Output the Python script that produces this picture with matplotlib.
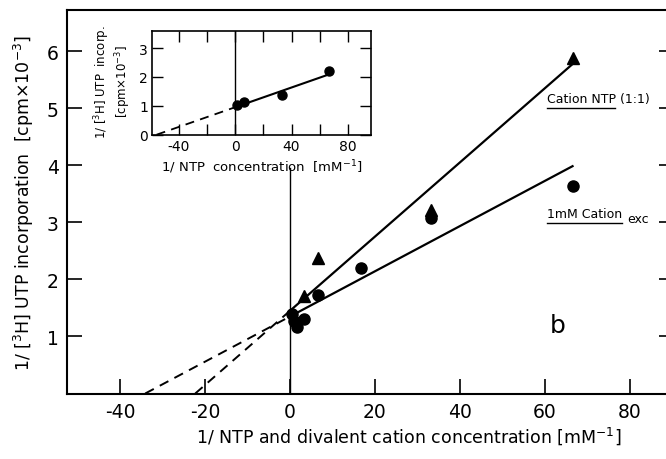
import matplotlib.pyplot as plt
from matplotlib.lines import Line2D

plt.rcParams['font.family'] = 'DejaVu Sans'
plt.rcParams['axes.unicode_minus'] = False

# main panel: 1/UTP incorporation vs 1/NTP and cation concentration
tri_x = [3.3, 6.7, 33.3, 66.7]
tri_y = [1.70, 2.37, 3.22, 5.88]
circ_x = [0.5, 1.0, 1.7, 3.3, 6.7, 16.7, 33.3, 66.7]
circ_y = [1.40, 1.27, 1.16, 1.30, 1.72, 2.20, 3.07, 3.63]

# fitted lines (intercept, slope)
fit_tri = (1.45, 0.065)
fit_circ = (1.35, 0.0396)

# inset: 1/UTP incorporation vs 1/NTP concentration
ins_x = [1.7, 6.7, 33.3, 66.7]
ins_y = [1.02, 1.12, 1.38, 2.19]
fit_ins = (0.95, 0.0171)

fig = plt.figure(figsize=(6.66, 4.60), dpi=100)
ax = fig.add_axes([67/666, 65.5/460, 599/666, 383.5/460])

for b0, b1 in [fit_tri, fit_circ]:
    x0 = -b0 / b1
    ax.plot([x0, 0], [0, b0], color='black', lw=1.4, dashes=(5, 3.5))
    ax.plot([0, 66.5], [b0, b0 + b1 * 66.5], color='black', lw=1.6)

ax.plot([0, 0], [0, 3.95], color='black', lw=1.0)
ax.plot(circ_x, circ_y, 'o', color='black', ms=8)
ax.plot(tri_x, tri_y, '^', color='black', ms=9)

ax.set_xlim(-52.5, 88.5)
ax.set_ylim(0, 6.72)
ax.set_xticks([-40, -20, 0, 20, 40, 60, 80])
ax.set_yticks([1, 2, 3, 4, 5, 6])
ax.tick_params(direction='in', length=11, width=1.2, labelsize=13.5, pad=6)
ax.tick_params(axis='y', right=True)
for t in ax.yaxis.get_major_ticks():
    t.tick2line.set_markersize(5)
ax.spines['right'].set_visible(False)
for s in ['left', 'bottom', 'top']:
    ax.spines[s].set_linewidth(1.5)

ax.set_xlabel('1/ NTP and divalent cation concentration [mM$^{-1}$]',
              fontsize=12.5)
ax.xaxis.set_label_coords(0.57, -0.08)
ax.set_ylabel('1/ [$^{3}$H] UTP incorporation  [cpm$\\times$10$^{-3}$]',
              fontsize=12.5, labelpad=8)

t1 = ax.text(547, 460 - 100, 'Cation NTP (1:1)', transform=None,
             fontsize=9, va='center', ha='left')
t2 = ax.text(547, 460 - 215, '1mM Cation', transform=None,
             fontsize=9, va='center', ha='left')
ax.text(63, 1.2, 'b', fontsize=18, va='center', ha='center')

fig.canvas.draw()
r = fig.canvas.get_renderer()
bb2 = t2.get_window_extent(r)
ax.text(bb2.x1 + 5, bb2.y0 + 2, 'exc', transform=None, fontsize=9,
        va='center', ha='left')
for t, frac in [(t1, 0.66), (t2, 1.0)]:
    bb = t.get_window_extent(r)
    x1 = bb.x0 + (bb.x1 - bb.x0) * frac
    fig.add_artist(Line2D([bb.x0 / 666, x1 / 666], [(bb.y0 - 2) / 460] * 2,
                          color='black', lw=1.0))

# inset
ia = fig.add_axes([152.3/666, 324.3/460, 218.7/666, 103.4/460])
ia.plot([-fit_ins[0] / fit_ins[1], 0], [0, fit_ins[0]], color='black',
        lw=1.3, dashes=(5, 3.5))
ia.plot([0, 66.5], [fit_ins[0], fit_ins[0] + fit_ins[1] * 66.5],
        color='black', lw=1.5)
ia.axvline(0, color='black', lw=1.0)
ia.plot(ins_x, ins_y, 'o', color='black', ms=6.5)
ia.set_xlim(-58.6, 96.3)
ia.set_ylim(0, 3.58)
ia.set_xticks([-40, 0, 40, 80])
ia.set_xticks([-20, 20, 60], minor=True)
ia.set_yticks([0, 1, 2, 3])
ia.tick_params(which='both', direction='in', length=8, width=1.0,
               labelsize=10, top=True, right=True, pad=3)
for s in ia.spines.values():
    s.set_linewidth(1.2)
ia.set_xlabel('1/ NTP  concentration  [mM$^{-1}$]', fontsize=9.5, labelpad=3)
fig.text(113/666, 1 - 82/460,
         '1/ [$^{3}$H] UTP  incorp.\n[cpm$\\times$10$^{-3}$]',
         rotation=90, fontsize=8.5, ha='center', va='center',
         multialignment='center', linespacing=1.1)

fig.savefig('out.png', dpi=100)
